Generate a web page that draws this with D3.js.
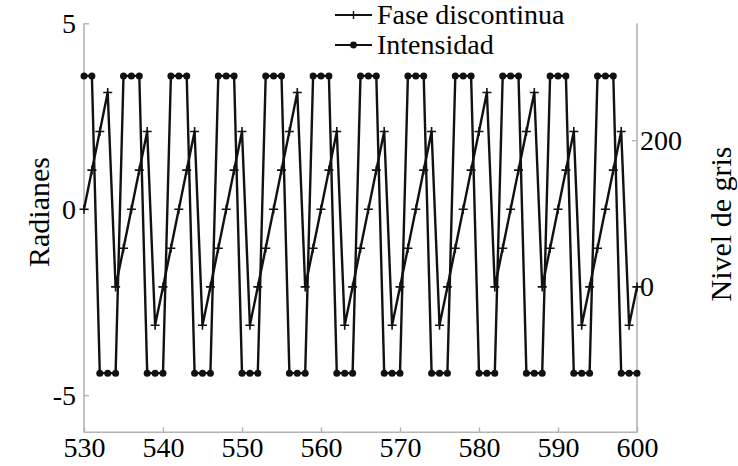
<!DOCTYPE html>
<html>
<head>
<meta charset="utf-8">
<script src="https://cdn.jsdelivr.net/npm/d3@7"></script>
<style>
  html, body { margin: 0; padding: 0; background: #fff; }
  svg { display: block; }
</style>
</head>
<body>
<svg id="chart" width="738" height="466"></svg>
<script>
// ---- data ----
const pixels = [530,531,532,533,534,535,536,537,538,539,540,541,542,543,544,545,546,547,548,549,
  550,551,552,553,554,555,556,557,558,559,560,561,562,563,564,565,566,567,568,569,
  570,571,572,573,574,575,576,577,578,579,580,581,582,583,584,585,586,587,588,589,
  590,591,592,593,594,595,596,597,598,599,600];
const faseDiscontinua = [0,1.05,2.09,3.14,-2.09,-1.05,0,1.05,2.09,-3.12,-2.09,-1.05,0,1.05,2.09,-3.12,-2.09,-1.05,0,1.05,
  2.09,-3.12,-2.09,-1.05,0,1.05,2.09,3.14,-2.09,-1.05,0,1.05,2.09,-3.12,-2.09,-1.05,0,1.05,2.09,-3.12,
  -2.09,-1.05,0,1.05,2.09,-3.12,-2.09,-1.05,0,1.05,2.09,3.14,-2.09,-1.05,0,1.05,2.09,3.14,-2.09,-1.05,
  0,1.05,2.09,-3.12,-2.09,-1.05,0,1.05,2.09,-3.12,-2.09];
const intensidad = [288,288,-119,-119,-119,288,288,288,-119,-119,-119,288,288,288,-119,-119,-119,288,288,288,
  -119,-119,-119,288,288,288,-119,-119,-119,288,288,288,-119,-119,-119,288,288,288,-119,-119,
  -119,288,288,288,-119,-119,-119,288,288,288,-119,-119,-119,288,288,288,-119,-119,-119,288,
  288,288,-119,-119,-119,288,288,288,-119,-119,-119];
const xTicks = [530,540,550,560,570,580,590,600];
const leftTicks = [-5,0,5];
const rightTicks = [0,200];
const seriesNames = ["Fase discontinua","Intensidad"];
const axisTitles = {left: "Radianes", right: "Nivel de gris"};

// ---- layout ----
const FONT = "Liberation Serif, DejaVu Serif, serif";
const svg = d3.select("#chart").attr("font-family", FONT);
const X0 = 84, X1 = 637, Y0 = 432.3, Y1 = 23.3;
const x = d3.scaleLinear().domain([530,600]).range([X0,X1]);
const yL = d3.scaleLinear().domain([-6,5]).range([Y0,Y1]);
const yR = d3.scaleLinear().domain([-200,360]).range([Y0,Y1]);
const axisColor = "#b4b4b4";
const fontSize = 28;
const fmt = d => String(d);  // plain hyphen-minus, as in the reference

// axes
const gB = svg.append("g").attr("transform", `translate(0,${Y0})`)
  .call(d3.axisBottom(x).tickValues(xTicks).tickFormat(fmt).tickSizeInner(-5).tickSizeOuter(0).tickPadding(25));
const gL = svg.append("g").attr("transform", `translate(${X0},0)`)
  .call(d3.axisLeft(yL).tickValues(leftTicks).tickFormat(fmt).tickSizeInner(-5).tickSizeOuter(0).tickPadding(8));
const gR = svg.append("g").attr("transform", `translate(${X1},0)`)
  .call(d3.axisRight(yR).tickValues(rightTicks).tickFormat(fmt).tickSizeInner(-5).tickSizeOuter(0).tickPadding(3));
[gB,gL,gR].forEach(g => {
  g.attr("font-family", FONT).attr("font-size", fontSize);
  g.select(".domain").attr("stroke", axisColor).attr("stroke-width", 1.6);
  g.selectAll(".tick line").attr("stroke", axisColor).attr("stroke-width", 1.4);
  g.selectAll(".tick text").attr("fill", "#000").attr("font-family", FONT).attr("font-size", fontSize);
});
gB.selectAll(".tick text").attr("dy", "0");
gL.selectAll(".tick text").attr("dy", "0.33em");
gR.selectAll(".tick text").attr("dy", "0.33em");
gL.select(".domain").attr("d", `M0,${Y0}V${Y1}`);
gR.select(".domain").attr("d", `M0,${Y0}V${Y1}`);
gB.select(".domain").attr("d", `M${X0},0H${X1}`);

// lines
const faseData = pixels.map((p,i) => ({x: p, y: faseDiscontinua[i]}));
const intData = pixels.map((p,i) => ({x: p, y: intensidad[i]}));
const lineL = d3.line().x(d => x(d.x)).y(d => yL(d.y));
const lineR = d3.line().x(d => x(d.x)).y(d => yR(d.y));

svg.append("path").datum(intData).attr("d", lineR)
  .attr("fill","none").attr("stroke","#111").attr("stroke-width",2.4).attr("stroke-linejoin","round");
svg.append("g").selectAll("circle").data(intData).join("circle")
  .attr("cx", d => x(d.x)).attr("cy", d => yR(d.y)).attr("r", 3.5).attr("fill","#111");

svg.append("path").datum(faseData).attr("d", lineL)
  .attr("fill","none").attr("stroke","#111").attr("stroke-width",2.4).attr("stroke-linejoin","round");
const plus = (cx, cy, s) => `M${cx-s},${cy}H${cx+s}M${cx},${cy-s}V${cy+s}`;
svg.append("g").selectAll("path").data(faseData).join("path")
  .attr("d", d => plus(x(d.x), yL(d.y), 4.5))
  .attr("stroke","#111").attr("stroke-width",1.6).attr("fill","none");

// legend
const leg = svg.append("g");
const legY = [15, 45];
seriesNames.forEach((name, i) => {
  const y = legY[i];
  leg.append("line").attr("x1",335).attr("x2",372).attr("y1",y).attr("y2",y)
    .attr("stroke","#111").attr("stroke-width",2);
  if (i === 0) {
    leg.append("path").attr("d", plus(353.5, y, 4)).attr("stroke","#111").attr("stroke-width",1.4);
  } else {
    leg.append("circle").attr("cx",353.5).attr("cy",y).attr("r",3.4).attr("fill","#111");
  }
  leg.append("text").attr("x",377).attr("y",y).attr("dy","0.33em")
    .attr("font-family", FONT).attr("font-size", fontSize).attr("fill","#000").text(name);
});

// axis titles
svg.append("text").attr("transform","translate(49,212) rotate(-90)")
  .attr("text-anchor","middle").attr("font-family", FONT).attr("font-size", 30).attr("fill","#000")
  .text(axisTitles.left);
svg.append("text").attr("transform","translate(731,224) rotate(-90)")
  .attr("text-anchor","middle").attr("font-family", FONT).attr("font-size", 30).attr("fill","#000")
  .text(axisTitles.right);
</script>
</body>
</html>
